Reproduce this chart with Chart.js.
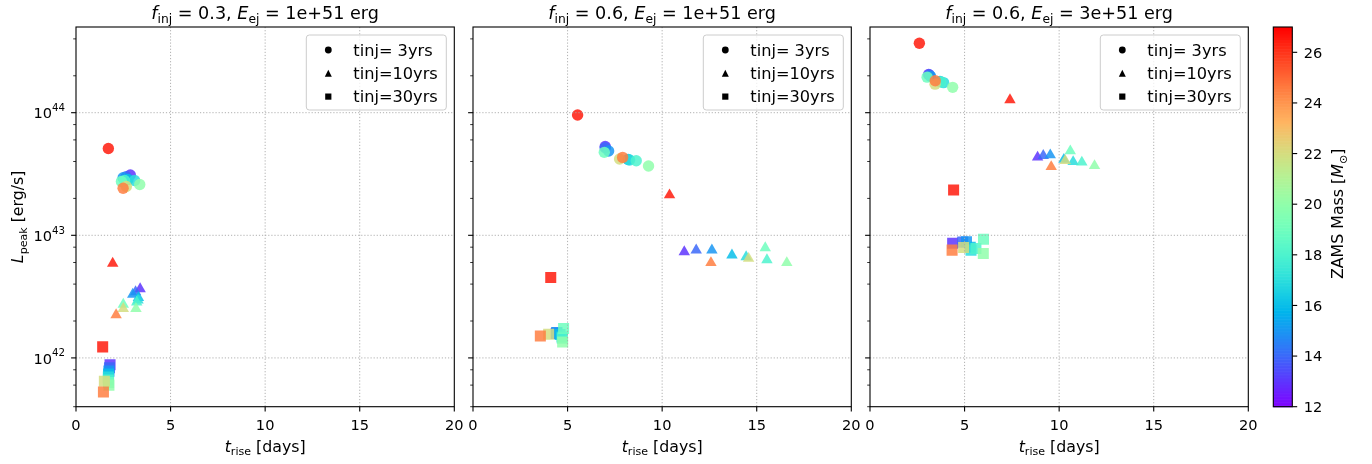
<!DOCTYPE html>
<html>
<head>
<meta charset="utf-8">
<title>Peak luminosity vs rise time</title>
<script src="https://cdn.jsdelivr.net/npm/chart.js@4.4.1/dist/chart.umd.min.js"></script>
<style>
    html, body { margin: 0; padding: 0; background: #fff; }
    #wrap { position: relative; width: 1372px; height: 464px; overflow: hidden; }
    #wrap canvas { position: absolute; left: 0; top: 0; }
</style>
</head>
<body>
<div id="wrap">
    <canvas id="panel0" width="1372" height="464"></canvas>
    <canvas id="panel1" width="1372" height="464"></canvas>
    <canvas id="panel2" width="1372" height="464"></canvas>
    <canvas id="cbar" width="1372" height="464"></canvas>
</div>
<script>
// ═══════════════════════════════════════════════════════════════
// DATA
// ═══════════════════════════════════════════════════════════════

// progenitor ZAMS masses, one entry per model (same order in every array below)
const MASSES = [13, 14, 15, 16, 17, 18, 19, 20, 22, 24.5, 26.5];

const F_INJ = ['0.3', '0.6', '0.6'];
const E_EJ = ['1e+51', '1e+51', '3e+51'];
const TINJ_LABELS = ['tinj= 3yrs', 'tinj=10yrs', 'tinj=30yrs'];

// f_inj = 0.3, E_ej = 1e51
const TRISE_A_3  = [2.87, 2.65, 2.49, 2.75, 3.10, 2.57, 2.40, 3.37, 2.66, 2.49, 1.71];
const LPEAK_A_3  = [3.1e43, 3.0e43, 2.95e43, 2.85e43, 2.8e43, 2.8e43, 2.75e43, 2.6e43, 2.5e43, 2.42e43, 5.1e43];
const TRISE_A_10 = [3.39, 3.15, 3.00, 3.30, 3.28, 3.21, 2.50, 3.17, 2.50, 2.12, 1.94];
const LPEAK_A_10 = [3.65e42, 3.45e42, 3.3e42, 3.1e42, 2.95e42, 2.85e42, 2.73e42, 2.52e42, 2.52e42, 2.24e42, 5.9e42];
const TRISE_A_30 = [1.80, 1.77, 1.74, 1.72, 1.71, 1.71, 1.72, 1.74, 1.50, 1.45, 1.41];
const LPEAK_A_30 = [8.8e41, 8.3e41, 7.8e41, 7.4e41, 7.0e41, 6.6e41, 6.3e41, 6.0e41, 6.45e41, 5.27e41, 1.23e42];

// f_inj = 0.6, E_ej = 1e51
const TRISE_B_3  = [6.99, 6.99, 7.17, 8.20, 8.28, 8.63, 6.94, 9.28, 7.75, 7.91, 5.53];
const LPEAK_B_3  = [5.3e43, 5.18e43, 4.87e43, 4.15e43, 4.11e43, 4.06e43, 4.75e43, 3.67e43, 4.19e43, 4.32e43, 9.58e43];
const TRISE_B_10 = [11.17, 11.80, 12.63, 13.69, 14.44, 15.54, 15.45, 16.59, 14.57, 12.58, 10.39];
const LPEAK_B_10 = [7.33e42, 7.57e42, 7.57e42, 6.88e42, 6.67e42, 6.3e42, 7.9e42, 5.97e42, 6.46e42, 5.97e42, 2.13e43];
const TRISE_B_30 = [4.40, 4.42, 4.44, 4.60, 4.71, 4.72, 4.79, 4.74, 4.00, 3.56, 4.11];
const LPEAK_B_30 = [1.58e42, 1.60e42, 1.61e42, 1.55e42, 1.48e42, 1.45e42, 1.74e42, 1.35e42, 1.56e42, 1.51e42, 4.53e42];

// f_inj = 0.6, E_ej = 3e51
const TRISE_C_3  = [3.10, 3.14, 3.20, 3.70, 3.89, 3.75, 3.02, 4.37, 3.44, 3.45, 2.61];
const LPEAK_C_3  = [2.05e44, 2.03e44, 1.98e44, 1.80e44, 1.76e44, 1.78e44, 1.95e44, 1.61e44, 1.71e44, 1.82e44, 3.69e44];
const TRISE_C_10 = [8.86, 9.16, 9.53, 10.25, 10.74, 11.20, 10.59, 11.87, 10.32, 9.58, 7.40];
const LPEAK_C_10 = [4.33e43, 4.46e43, 4.52e43, 4.15e43, 3.98e43, 3.94e43, 4.87e43, 3.69e43, 4.06e43, 3.62e43, 1.27e44];
const TRISE_C_30 = [4.37, 4.90, 5.10, 5.30, 5.34, 5.60, 6.00, 5.99, 4.95, 4.34, 4.42];
const LPEAK_C_30 = [8.6e42, 8.8e42, 8.85e42, 8.0e42, 7.57e42, 7.8e42, 9.3e42, 7.1e42, 7.95e42, 7.57e42, 2.34e43];

const PANELS = [
    [[TRISE_A_3, LPEAK_A_3], [TRISE_A_10, LPEAK_A_10], [TRISE_A_30, LPEAK_A_30]],
    [[TRISE_B_3, LPEAK_B_3], [TRISE_B_10, LPEAK_B_10], [TRISE_B_30, LPEAK_B_30]],
    [[TRISE_C_3, LPEAK_C_3], [TRISE_C_10, LPEAK_C_10], [TRISE_C_30, LPEAK_C_30]]
];

// axis limits
const X_MIN = 0, X_MAX = 20, X_STEP = 5;
const Y_MIN = 4e41, Y_MAX = 5e44;
const CMAP_MIN = 12, CMAP_MAX = 27, CMAP_STEP = 2;

// ═══════════════════════════════════════════════════════════════
// LAYOUT & STYLE
// ═══════════════════════════════════════════════════════════════

const W = 1372, H = 464;
const AX_LEFT = [76, 473, 870];
const AX_W = 378.3;
const AX_TOP = 27, AX_BOTTOM = 406.7;
const CB_LEFT = 1273.3, CB_RIGHT = 1292.3;

const FONT = '"DejaVu Sans", sans-serif';
const FS_TICK = 14.6;
const FS_LABEL = 15.8;
const FS_LEGEND = 16.2;
const FS_TITLE = 17.6;
const ALPHA = 0.85;
const MARKERS = ['circle', 'triangle', 'rect'];
const RADII = [5.7, 6.6, 7.8];

// matplotlib 'rainbow'
function rainbow(m, alpha) {
    const x = Math.min(1, Math.max(0, (m - CMAP_MIN) / (CMAP_MAX - CMAP_MIN)));
    const r = Math.min(1, Math.abs(2 * x - 0.5));
    const g = Math.sin(Math.PI * x);
    const b = Math.cos(Math.PI * x / 2);
    return `rgba(${Math.round(r * 255)},${Math.round(g * 255)},${Math.round(b * 255)},${alpha})`;
}

// text with italic / sub / superscript runs
function drawRich(ctx, parts, x, y, fs, align, angle) {
    ctx.save();
    ctx.translate(x, y);
    if (angle) ctx.rotate(angle);
    const runs = parts.map(p => {
        const size = (p.sub || p.sup) ? fs * 0.7 : fs;
        const font = (p.it ? 'italic ' : '') + size.toFixed(2) + 'px ' + FONT;
        ctx.font = font;
        const dy = p.sub ? fs * 0.24 : (p.sup ? -fs * 0.5 : 0);
        return { t: p.t, font, dy, w: ctx.measureText(p.t).width };
    });
    const total = runs.reduce((s, r) => s + r.w, 0);
    let cx = align === 'center' ? -total / 2 : (align === 'right' ? -total : 0);
    ctx.textAlign = 'left';
    ctx.textBaseline = 'alphabetic';
    ctx.fillStyle = '#000';
    runs.forEach(r => {
        ctx.font = r.font;
        ctx.fillText(r.t, cx, r.dy);
        cx += r.w;
    });
    ctx.restore();
}

function drawMarker(ctx, style, x, y, size) {
    ctx.beginPath();
    if (style === 'circle') {
        ctx.arc(x, y, size / 2, 0, Math.PI * 2);
    } else if (style === 'triangle') {
        ctx.moveTo(x, y - size / 2);
        ctx.lineTo(x + size / 2, y + size / 2);
        ctx.lineTo(x - size / 2, y + size / 2);
        ctx.closePath();
    } else {
        ctx.rect(x - size / 2, y - size / 2, size, size);
    }
    ctx.fill();
}

function isDecade(v) {
    const l = Math.log10(v);
    return Math.abs(l - Math.round(l)) < 1e-9;
}

// ═══════════════════════════════════════════════════════════════
// PANEL DECORATION (grid, spines, ticks, labels, legend)
// ═══════════════════════════════════════════════════════════════

function panelPlugin(idx) {
    return {
        id: 'mplPanel' + idx,
        afterDatasetsDraw(chart) {
            const { ctx, chartArea: a, scales: { x, y } } = chart;
            ctx.save();
            ctx.strokeStyle = '#a8a8a8';
            ctx.lineWidth = 0.9;
            ctx.setLineDash([1.2, 1.9]);
            x.ticks.forEach(t => {
                const px = x.getPixelForValue(t.value);
                if (px <= a.left + 1 || px >= a.right - 1) return;
                ctx.beginPath(); ctx.moveTo(px, a.top); ctx.lineTo(px, a.bottom); ctx.stroke();
            });
            y.ticks.forEach(t => {
                if (!isDecade(t.value)) return;
                const py = y.getPixelForValue(t.value);
                ctx.beginPath(); ctx.moveTo(a.left, py); ctx.lineTo(a.right, py); ctx.stroke();
            });
            ctx.restore();
        },
        afterDraw(chart) {
            const { ctx, chartArea: a, scales: { x, y } } = chart;
            ctx.save();
            ctx.strokeStyle = '#000';
            ctx.lineWidth = 1.1;
            ctx.strokeRect(a.left, a.top, a.right - a.left, a.bottom - a.top);

            // x ticks
            ctx.font = FS_TICK + 'px ' + FONT;
            ctx.textAlign = 'center';
            ctx.fillStyle = '#000';
            x.ticks.forEach(t => {
                const px = x.getPixelForValue(t.value);
                ctx.beginPath(); ctx.moveTo(px, a.bottom); ctx.lineTo(px, a.bottom + 4.9); ctx.stroke();
                ctx.fillText(String(t.value), px, a.bottom + 23.4);
            });

            // y ticks: long at decades, short in between
            y.ticks.forEach(t => {
                const py = y.getPixelForValue(t.value);
                const major = isDecade(t.value);
                ctx.lineWidth = major ? 1.1 : 0.8;
                ctx.beginPath(); ctx.moveTo(a.left, py); ctx.lineTo(a.left - (major ? 4.9 : 2.8), py); ctx.stroke();
                if (major && idx === 0) {
                    drawRich(ctx, [{ t: '10' }, { t: String(Math.round(Math.log10(t.value))), sup: true }],
                        a.left - 11, py + 5.8, FS_TICK, 'right');
                }
            });

            // axis labels
            const cx = (a.left + a.right) / 2;
            drawRich(ctx, [{ t: 't', it: true }, { t: 'rise', sub: true }, { t: ' [days]' }],
                cx, a.bottom + 45, FS_LABEL, 'center');
            if (idx === 0) {
                drawRich(ctx, [{ t: 'L', it: true }, { t: 'peak', sub: true }, { t: ' [erg/s]' }],
                    23, (a.top + a.bottom) / 2, FS_LABEL, 'center', -Math.PI / 2);
            }

            // title
            drawRich(ctx, [
                { t: 'f', it: true }, { t: 'inj', sub: true },
                { t: ' = ' + F_INJ[idx] + ', ' },
                { t: 'E', it: true }, { t: 'ej', sub: true },
                { t: ' = ' + E_EJ[idx] + ' erg' }
            ], cx, a.top - 7.8, FS_TITLE, 'center');

            // legend
            const bw = 140, bh = 75;
            const bx = a.right - 8 - bw, by = a.top + 8;
            ctx.beginPath();
            ctx.roundRect(bx, by, bw, bh, 3);
            ctx.fillStyle = 'rgba(255,255,255,0.8)';
            ctx.fill();
            ctx.strokeStyle = '#cccccc';
            ctx.lineWidth = 1;
            ctx.stroke();
            TINJ_LABELS.forEach((lab, i) => {
                const ry = by + 15 + i * 23.3;
                ctx.fillStyle = '#000';
                drawMarker(ctx, MARKERS[i], bx + 22, ry, MARKERS[i] === 'triangle' ? 7 : (MARKERS[i] === 'rect' ? 6.2 : 6.8));
                ctx.font = FS_LEGEND + 'px ' + FONT;
                ctx.textAlign = 'left';
                ctx.fillText(lab, bx + 47, ry + 5.8);
            });
            ctx.restore();
        }
    };
}

function buildPanel(idx) {
    const datasets = PANELS[idx].map(([trise, lpeak], k) => ({
        label: TINJ_LABELS[k],
        data: trise.map((t, i) => ({ x: t, y: lpeak[i] })),
        pointStyle: MARKERS[k],
        pointRadius: RADII[k],
        pointBorderWidth: 0,
        pointBackgroundColor: MASSES.map(m => rainbow(m, ALPHA)),
        showLine: false
    }));
    const left = AX_LEFT[idx];
    return new Chart(document.getElementById('panel' + idx), {
        type: 'scatter',
        data: { datasets },
        options: {
            responsive: false,
            animation: false,
            devicePixelRatio: 1,
            events: [],
            layout: { padding: { left: left, right: W - left - AX_W, top: AX_TOP, bottom: H - AX_BOTTOM } },
            plugins: { legend: { display: false }, tooltip: { enabled: false }, title: { display: false } },
            scales: {
                x: { type: 'linear', min: X_MIN, max: X_MAX, display: false, ticks: { stepSize: X_STEP } },
                y: { type: 'logarithmic', min: Y_MIN, max: Y_MAX, display: false }
            }
        },
        plugins: [panelPlugin(idx)]
    });
}

// ═══════════════════════════════════════════════════════════════
// COLORBAR
// ═══════════════════════════════════════════════════════════════

const colorbarPlugin = {
    id: 'colorbar',
    afterDraw(chart) {
        const { ctx, chartArea: a, scales: { y } } = chart;
        ctx.save();
        const N = 256;
        for (let i = 0; i < N; i++) {
            const v0 = CMAP_MIN + (CMAP_MAX - CMAP_MIN) * i / N;
            const v1 = CMAP_MIN + (CMAP_MAX - CMAP_MIN) * (i + 1) / N;
            const y0 = y.getPixelForValue(v0), y1 = y.getPixelForValue(v1);
            ctx.fillStyle = rainbow((v0 + v1) / 2, 1);
            ctx.fillRect(a.left, y1, a.right - a.left, y0 - y1 + 0.6);
        }
        ctx.strokeStyle = '#000';
        ctx.lineWidth = 1.1;
        ctx.strokeRect(a.left, a.top, a.right - a.left, a.bottom - a.top);

        ctx.font = FS_TICK + 'px ' + FONT;
        ctx.fillStyle = '#000';
        ctx.textAlign = 'left';
        y.ticks.forEach(t => {
            const py = y.getPixelForValue(t.value);
            ctx.beginPath(); ctx.moveTo(a.right, py); ctx.lineTo(a.right + 4.9, py); ctx.stroke();
            ctx.fillText(String(t.value), a.right + 11.5, py + 5.3);
        });
        drawRich(ctx, [{ t: 'ZAMS Mass [' }, { t: 'M', it: true }, { t: '\u2299', sub: true }, { t: ']' }],
            1343, (a.top + a.bottom) / 2 - 3, FS_LABEL, 'center', -Math.PI / 2);
        ctx.restore();
    }
};

function buildColorbar() {
    return new Chart(document.getElementById('cbar'), {
        type: 'scatter',
        data: { datasets: [] },
        options: {
            responsive: false,
            animation: false,
            devicePixelRatio: 1,
            events: [],
            layout: { padding: { left: CB_LEFT, right: W - CB_RIGHT, top: AX_TOP, bottom: H - AX_BOTTOM } },
            plugins: { legend: { display: false }, tooltip: { enabled: false } },
            scales: {
                x: { type: 'linear', min: 0, max: 1, display: false },
                y: { type: 'linear', min: CMAP_MIN, max: CMAP_MAX, display: false, ticks: { stepSize: CMAP_STEP, includeBounds: false } }
            }
        },
        plugins: [colorbarPlugin]
    });
}

[0, 1, 2].forEach(buildPanel);
buildColorbar();
</script>
</body>
</html>
